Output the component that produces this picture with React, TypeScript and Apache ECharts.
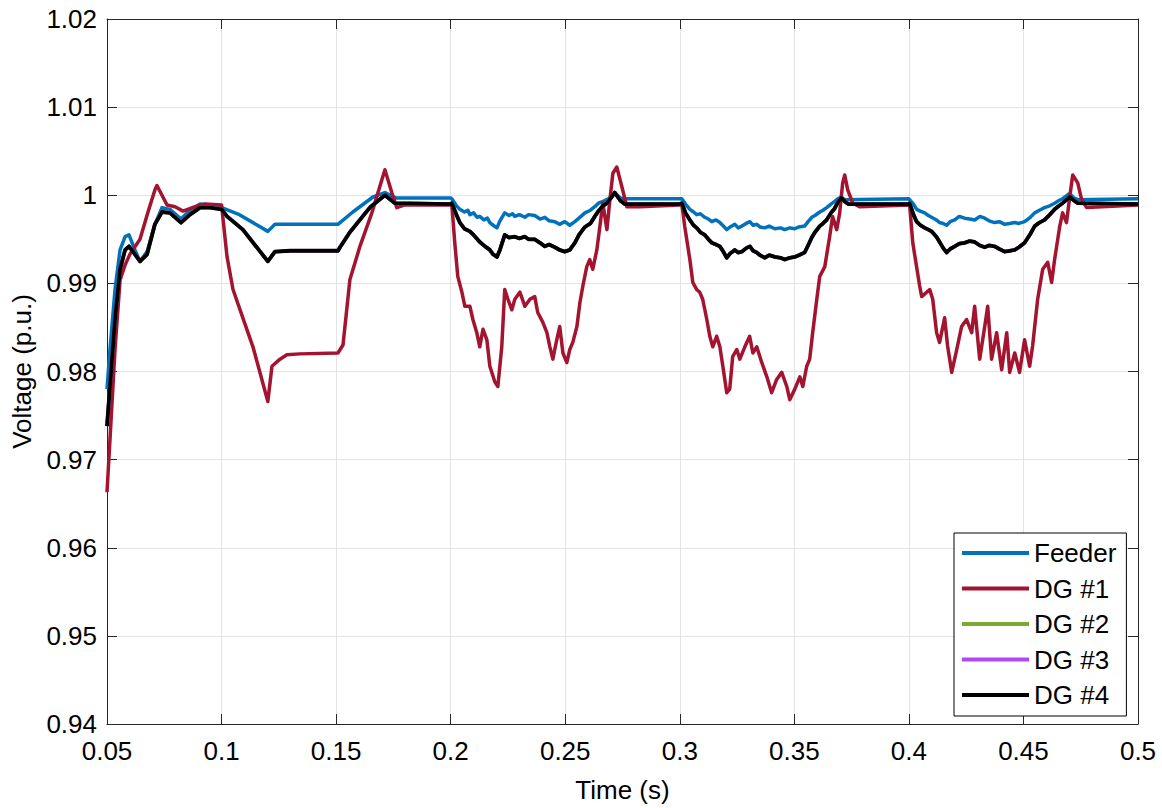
import React, { useEffect, useRef } from "react";
import * as echarts from "echarts";

const seriesNames = ["Feeder", "DG #1", "DG #2", "DG #3", "DG #4"];
const seriesColors = ["#0072BD", "#A2142F", "#77AC30", "#B048F8", "#000000"];

const xTicks = { min: 0.05, max: 0.5, step: 0.05 };
const yTicks = { min: 0.94, max: 1.02, step: 0.01 };

const feederPoints: [number, number][] = [
  [0.05, 0.978], [0.0513, 0.9825], [0.0535, 0.9893], [0.0557, 0.9938], [0.0579, 0.9953], [0.0596, 0.9955],
  [0.0622, 0.9938], [0.0644, 0.9925], [0.0675, 0.9936], [0.0709, 0.9967], [0.074, 0.9986], [0.0775, 0.9984],
  [0.0823, 0.9973], [0.0862, 0.9983], [0.0906, 0.999], [0.0949, 0.9989], [0.1, 0.9986], [0.1078, 0.9978],
  [0.1202, 0.9959], [0.1233, 0.9967], [0.1508, 0.9967], [0.1573, 0.9981], [0.1661, 0.9998], [0.1713, 1.0003],
  [0.176, 0.9997], [0.2, 0.9997],
  [0.2005, 0.9996], [0.2025, 0.9988], [0.204, 0.9984], [0.206, 0.9981], [0.2075, 0.9983], [0.2084, 0.9978],
  [0.21, 0.998], [0.2115, 0.9975], [0.2127, 0.9976], [0.2145, 0.9972], [0.216, 0.9974], [0.2171, 0.9969],
  [0.2185, 0.9966], [0.2202, 0.9963], [0.2215, 0.9971], [0.2236, 0.998], [0.2255, 0.9977], [0.227, 0.9979],
  [0.228, 0.9976], [0.23, 0.9978], [0.2324, 0.9975], [0.234, 0.9978], [0.2367, 0.9977], [0.239, 0.9973],
  [0.2411, 0.9975], [0.243, 0.9971], [0.2455, 0.997], [0.2475, 0.9967], [0.2498, 0.997], [0.252, 0.9966],
  [0.2542, 0.997], [0.256, 0.9974], [0.2586, 0.998], [0.261, 0.9983], [0.2629, 0.9987], [0.2645, 0.9991],
  [0.2665, 0.9993], [0.2682, 0.9995], [0.27, 0.9998], [0.2716, 1.0003], [0.274, 0.9997], [0.276, 0.9996],
  [0.3, 0.9996],
  [0.3009, 0.9996], [0.3025, 0.999], [0.3044, 0.9984], [0.306, 0.9981], [0.3074, 0.9978], [0.309, 0.9979],
  [0.3109, 0.9975], [0.3125, 0.9973], [0.314, 0.997], [0.3158, 0.9972], [0.3175, 0.9969], [0.319, 0.9965],
  [0.3205, 0.9961], [0.322, 0.9964], [0.324, 0.9967], [0.3255, 0.9963], [0.3271, 0.9965], [0.329, 0.9968],
  [0.3306, 0.997], [0.332, 0.9966], [0.3336, 0.9967], [0.335, 0.9964], [0.3371, 0.9963], [0.339, 0.9965],
  [0.3415, 0.9962], [0.344, 0.9963], [0.3458, 0.9961], [0.348, 0.9963], [0.3502, 0.9962], [0.352, 0.9964],
  [0.3545, 0.9965], [0.356, 0.997], [0.3576, 0.9975], [0.359, 0.9977], [0.3611, 0.9981], [0.3625, 0.9983],
  [0.3641, 0.9986], [0.366, 0.999], [0.3676, 0.9993], [0.369, 0.9996], [0.3705, 0.9998], [0.372, 0.9995],
  [0.4, 0.9996],
  [0.4003, 0.9996], [0.402, 0.999], [0.4034, 0.9984], [0.405, 0.9982], [0.4069, 0.998], [0.4085, 0.9977],
  [0.4099, 0.9975], [0.412, 0.9972], [0.4134, 0.9969], [0.415, 0.9968], [0.4165, 0.9966], [0.418, 0.997],
  [0.42, 0.9972], [0.422, 0.9976], [0.4243, 0.9974], [0.4265, 0.9973], [0.4287, 0.9972], [0.431, 0.9976],
  [0.4331, 0.9974], [0.435, 0.9971], [0.4374, 0.9969], [0.4395, 0.997], [0.4418, 0.9967], [0.444, 0.9968],
  [0.4462, 0.9969], [0.448, 0.9968], [0.4505, 0.997], [0.453, 0.9975], [0.4549, 0.998], [0.457, 0.9983],
  [0.4592, 0.9986], [0.4615, 0.9988], [0.4636, 0.9991], [0.4655, 0.9994], [0.4671, 0.9996], [0.4702, 1.0002],
  [0.472, 0.9997], [0.4737, 0.9995], [0.5, 0.9996],
];

const dg1Points: [number, number][] = [
  [0.05, 0.9663], [0.0513, 0.9723], [0.0535, 0.9825], [0.0557, 0.9904], [0.0579, 0.9921], [0.06, 0.9933],
  [0.0644, 0.995], [0.0679, 0.9981], [0.0709, 1.0006], [0.0718, 1.0011], [0.0762, 0.9989], [0.0797, 0.9987],
  [0.0832, 0.9982], [0.0884, 0.9987], [0.0928, 0.999], [0.1, 0.9989], [0.1024, 0.993], [0.105, 0.9893],
  [0.1102, 0.9854], [0.1137, 0.9828], [0.1202, 0.9766], [0.122, 0.9806], [0.1255, 0.9814], [0.1285, 0.9819],
  [0.1342, 0.982], [0.1508, 0.9821], [0.153, 0.983], [0.156, 0.9904], [0.1604, 0.9942], [0.1656, 0.998],
  [0.1713, 1.0029], [0.1743, 1.0003], [0.1765, 0.9986], [0.18, 0.9989], [0.2, 0.9989],
  [0.2005, 0.999], [0.2018, 0.9946], [0.2031, 0.9908], [0.2049, 0.989], [0.2062, 0.9874], [0.2084, 0.9874],
  [0.2097, 0.9859], [0.2114, 0.9844], [0.2127, 0.9828], [0.2141, 0.9848], [0.2158, 0.9836], [0.2171, 0.9806],
  [0.2193, 0.9788], [0.2206, 0.9783], [0.2223, 0.9828], [0.2236, 0.9893], [0.225, 0.9882], [0.2267, 0.987],
  [0.228, 0.9882], [0.2302, 0.989], [0.2324, 0.9874], [0.2346, 0.9882], [0.2367, 0.9885], [0.238, 0.9867],
  [0.2402, 0.9856], [0.242, 0.9844], [0.2433, 0.9828], [0.2446, 0.9814], [0.2463, 0.9836], [0.2476, 0.9851],
  [0.249, 0.9821], [0.2507, 0.981], [0.252, 0.9825], [0.2533, 0.9833], [0.2551, 0.9851], [0.2564, 0.9878],
  [0.2577, 0.9897], [0.2594, 0.9919], [0.2607, 0.9927], [0.262, 0.9916], [0.2638, 0.9938], [0.2651, 0.9964],
  [0.2664, 0.9991], [0.2682, 0.9961], [0.2695, 0.9995], [0.2708, 1.0025], [0.2725, 1.0032], [0.2747, 1.001],
  [0.2769, 0.9987], [0.2826, 0.9987], [0.3, 0.9989],
  [0.3009, 0.999], [0.3022, 0.9964], [0.3044, 0.9927], [0.3057, 0.9901], [0.3074, 0.9893], [0.3087, 0.989],
  [0.31, 0.9882], [0.3118, 0.9859], [0.3131, 0.984], [0.3144, 0.9828], [0.3161, 0.984], [0.3175, 0.9828],
  [0.3188, 0.9806], [0.3205, 0.9776], [0.3218, 0.978], [0.3231, 0.9817], [0.3249, 0.9825], [0.3262, 0.9814],
  [0.3284, 0.9828], [0.3305, 0.984], [0.3319, 0.9821], [0.3336, 0.9828], [0.3358, 0.981], [0.338, 0.9794],
  [0.3401, 0.9776], [0.3423, 0.9791], [0.3445, 0.9799], [0.3467, 0.9783], [0.348, 0.9768], [0.3502, 0.978],
  [0.3524, 0.9794], [0.3537, 0.9783], [0.3554, 0.9806], [0.3567, 0.9814], [0.358, 0.9844], [0.3598, 0.9882],
  [0.3611, 0.9908], [0.3633, 0.9919], [0.3654, 0.9953], [0.3667, 0.9976], [0.3685, 0.9961], [0.3698, 0.998],
  [0.3711, 1.0014], [0.372, 1.0023], [0.3733, 1.0006], [0.3755, 0.9991], [0.3785, 0.9987], [0.4, 0.9989],
  [0.4003, 0.999], [0.4017, 0.9946], [0.4047, 0.9897], [0.4056, 0.9885], [0.4091, 0.9893], [0.4104, 0.9882],
  [0.4121, 0.9844], [0.4134, 0.9833], [0.4156, 0.9861], [0.4169, 0.9829], [0.4187, 0.9799], [0.4209, 0.9825],
  [0.423, 0.9851], [0.4252, 0.9859], [0.4274, 0.9844], [0.4287, 0.9874], [0.4309, 0.9814], [0.4331, 0.9851],
  [0.4344, 0.9874], [0.4361, 0.9814], [0.4383, 0.9844], [0.4405, 0.9802], [0.4427, 0.9844], [0.444, 0.9799],
  [0.4462, 0.9821], [0.4483, 0.9799], [0.4505, 0.9836], [0.4527, 0.9806], [0.454, 0.9829], [0.4562, 0.9882],
  [0.4584, 0.9916], [0.4606, 0.9924], [0.4623, 0.9901], [0.4636, 0.9927], [0.4658, 0.9964], [0.4671, 0.998],
  [0.4688, 0.9969], [0.4702, 0.9998], [0.4715, 1.0023], [0.4737, 1.0014], [0.4754, 0.9995], [0.4776, 0.9986],
  [0.5, 0.9989],
];

// DG #2, DG #3 and DG #4 lie on top of each other in the picture.
const dg4Points: [number, number][] = [
  [0.05, 0.9738], [0.0513, 0.9783], [0.0535, 0.9859], [0.0557, 0.9916], [0.0579, 0.9938], [0.0596, 0.9942],
  [0.0622, 0.9933], [0.0644, 0.9925], [0.0675, 0.9933], [0.0709, 0.9967], [0.074, 0.9981], [0.0775, 0.998],
  [0.0823, 0.9969], [0.0862, 0.9978], [0.0906, 0.9986], [0.0949, 0.9986], [0.1, 0.9984], [0.1024, 0.9976],
  [0.1093, 0.9961], [0.1202, 0.9925], [0.1233, 0.9936], [0.13, 0.9937], [0.1508, 0.9937], [0.1517, 0.9941],
  [0.156, 0.9958], [0.1647, 0.9986], [0.1713, 1.0], [0.1757, 0.9991], [0.2, 0.999],
  [0.2005, 0.9991], [0.2025, 0.9978], [0.204, 0.9969], [0.206, 0.9962], [0.2084, 0.9959], [0.21, 0.9955],
  [0.2127, 0.9947], [0.215, 0.9942], [0.2171, 0.9938], [0.2185, 0.9933], [0.2202, 0.993], [0.2215, 0.9938],
  [0.2236, 0.9955], [0.2255, 0.9952], [0.228, 0.9953], [0.23, 0.9951], [0.2324, 0.9953], [0.234, 0.995],
  [0.2367, 0.995], [0.239, 0.9946], [0.2411, 0.9942], [0.243, 0.9944], [0.2455, 0.9941], [0.2475, 0.9938],
  [0.2498, 0.9936], [0.252, 0.9938], [0.2542, 0.9946], [0.256, 0.9955], [0.2586, 0.9964], [0.261, 0.9968],
  [0.2629, 0.9976], [0.2645, 0.9982], [0.2665, 0.9988], [0.2682, 0.9991], [0.27, 0.9997], [0.2716, 1.0003],
  [0.274, 0.9994], [0.276, 0.999], [0.3, 0.999],
  [0.3009, 0.9991], [0.3025, 0.998], [0.3044, 0.9972], [0.306, 0.9966], [0.3074, 0.9963], [0.309, 0.9958],
  [0.3109, 0.9955], [0.3125, 0.995], [0.314, 0.9946], [0.3158, 0.9944], [0.3175, 0.9942], [0.319, 0.9936],
  [0.3205, 0.9929], [0.322, 0.9934], [0.324, 0.9938], [0.3255, 0.9935], [0.3271, 0.9936], [0.329, 0.994],
  [0.3306, 0.9942], [0.332, 0.9937], [0.3336, 0.9935], [0.335, 0.9932], [0.3371, 0.9929], [0.339, 0.9932],
  [0.3415, 0.993], [0.344, 0.9929], [0.3458, 0.9927], [0.348, 0.9929], [0.3502, 0.993], [0.352, 0.9932],
  [0.3545, 0.9935], [0.356, 0.9943], [0.3576, 0.9952], [0.359, 0.9958], [0.3611, 0.9965], [0.3625, 0.9968],
  [0.3641, 0.9972], [0.366, 0.998], [0.3676, 0.9985], [0.369, 0.9992], [0.3705, 0.9997], [0.372, 0.9993],
  [0.3735, 0.999], [0.4, 0.999],
  [0.4003, 0.9991], [0.402, 0.9978], [0.4034, 0.997], [0.405, 0.9966], [0.4069, 0.9963], [0.4085, 0.9961],
  [0.4099, 0.9959], [0.412, 0.9953], [0.4134, 0.9947], [0.415, 0.994], [0.4165, 0.9935], [0.418, 0.9939],
  [0.42, 0.9942], [0.422, 0.9945], [0.4243, 0.9946], [0.4265, 0.9948], [0.4287, 0.9947], [0.431, 0.9943],
  [0.4331, 0.9941], [0.435, 0.9943], [0.4374, 0.9942], [0.4395, 0.9939], [0.4418, 0.9936], [0.444, 0.9937],
  [0.4462, 0.9938], [0.448, 0.9941], [0.4505, 0.9946], [0.453, 0.9956], [0.4549, 0.9965], [0.457, 0.9969],
  [0.4592, 0.9972], [0.4615, 0.9978], [0.4636, 0.9984], [0.4655, 0.9988], [0.4671, 0.9991], [0.4702, 0.9998],
  [0.472, 0.9994], [0.4737, 0.9991], [0.5, 0.999],
];
const dg2Points = dg4Points;
const dg3Points = dg4Points;

const seriesData = [feederPoints, dg1Points, dg2Points, dg3Points, dg4Points];
const seriesWidths = [3.5, 3.5, 3.5, 3.5, 3.8];

const FONT = "'Liberation Sans', Arial, Helvetica, sans-serif";
const AXIS_COLOR = "#262626";

const fmt = (v: number) => String(Number(v.toFixed(2)));

export default function App() {
  const ref = useRef<HTMLDivElement>(null);
  useEffect(() => {
    if (!ref.current) return;
    const chart = echarts.init(ref.current, undefined, { renderer: "svg" });
    const baseX = {
      type: "value" as const,
      min: xTicks.min,
      max: xTicks.max,
      interval: xTicks.step,
    };
    const baseY = {
      type: "value" as const,
      min: yTicks.min,
      max: yTicks.max,
      interval: yTicks.step,
    };
    const axisLine = { show: true, onZero: false, lineStyle: { color: AXIS_COLOR, width: 1 } };
    const axisTick = { show: true, inside: true, length: 10, lineStyle: { color: AXIS_COLOR, width: 1 } };
    chart.setOption({
      animation: false,
      backgroundColor: "#ffffff",
      grid: { left: 107, top: 19, right: 24, bottom: 83, containLabel: false },
      xAxis: [
        {
          ...baseX,
          position: "bottom",
          axisLine,
          axisTick,
          axisLabel: { formatter: fmt, fontSize: 26, color: "#000", fontFamily: FONT, margin: 14 },
          splitLine: { show: true, lineStyle: { color: "#e3e3e3", width: 1 } },
          name: "Time (s)",
          nameLocation: "middle",
          nameGap: 53,
          nameTextStyle: { fontSize: 26, color: "#000", fontFamily: FONT },
        },
        {
          ...baseX,
          position: "top",
          axisLine,
          axisTick,
          axisLabel: { show: false },
          splitLine: { show: false },
        },
      ],
      yAxis: [
        {
          ...baseY,
          position: "left",
          axisLine,
          axisTick,
          axisLabel: { formatter: fmt, fontSize: 26, color: "#000", fontFamily: FONT, margin: 10 },
          splitLine: { show: true, lineStyle: { color: "#e3e3e3", width: 1 } },
          name: "Voltage (p.u.)",
          nameLocation: "middle",
          nameGap: 72,
          nameTextStyle: { fontSize: 26, color: "#000", fontFamily: FONT },
        },
        {
          ...baseY,
          position: "right",
          axisLine,
          axisTick,
          axisLabel: { show: false },
          splitLine: { show: false },
        },
      ],
      legend: {
        orient: "vertical",
        left: 954,
        top: 533,
        padding: [7, 10, 8, 8],
        itemWidth: 67,
        itemHeight: 4,
        itemGap: 9.5,
        icon: "rect",
        selectedMode: false,
        backgroundColor: "#ffffff",
        borderColor: "#000000",
        borderWidth: 1,
        textStyle: { fontSize: 26, color: "#000", fontFamily: FONT, lineHeight: 26 },
        data: seriesNames,
      },
      series: seriesNames.map((name, i) => ({
        name,
        type: "line",
        xAxisIndex: 0,
        yAxisIndex: 0,
        data: seriesData[i],
        showSymbol: false,
        symbol: "none",
        lineStyle: { width: seriesWidths[i], color: seriesColors[i], join: "round" },
        itemStyle: { color: seriesColors[i] },
      })),
    });
    return () => chart.dispose();
  }, []);
  return (
    <div
      ref={ref}
      style={{ position: "absolute", left: 0, top: 0, width: 1162, height: 808 }}
    />
  );
}
